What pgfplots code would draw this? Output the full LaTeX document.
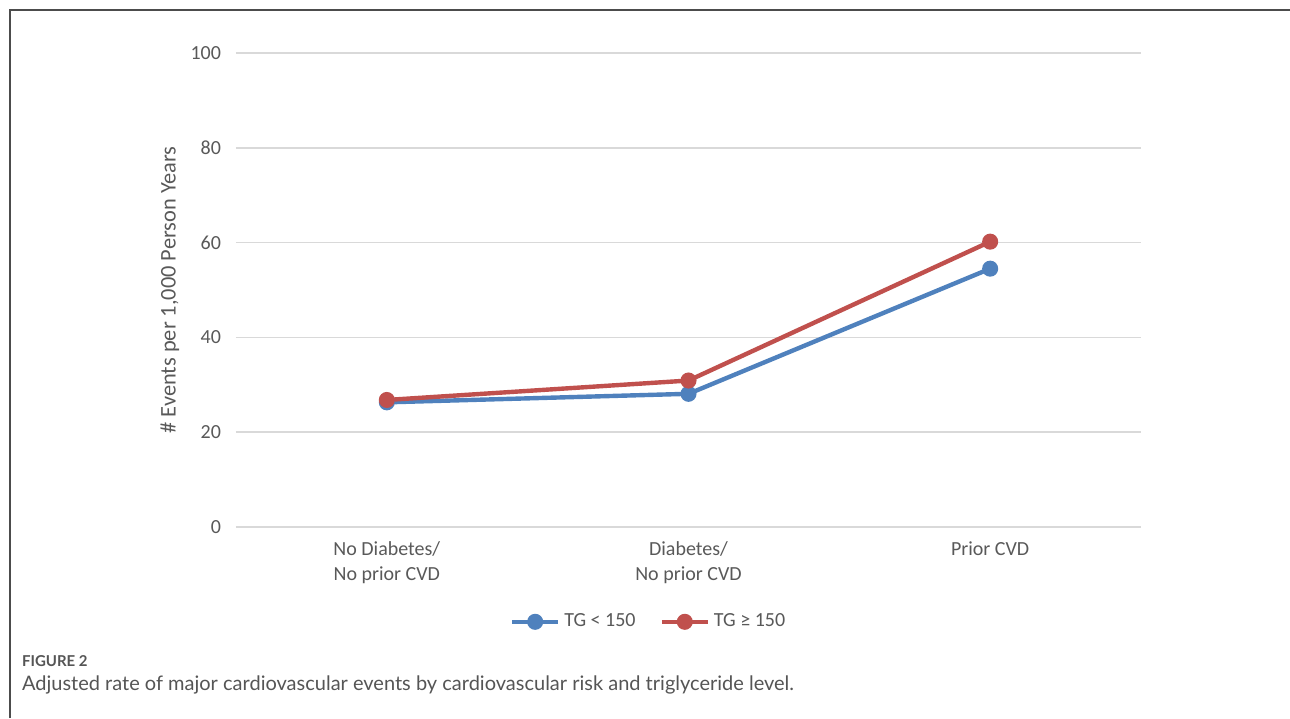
\documentclass[border=0pt]{standalone}
\usepackage{pgfplots}
\pgfplotsset{compat=1.18}
\usepackage{fontspec}
\setmainfont{Carlito}
\newfontfamily\capfont{Lato}
\definecolor{tgblue}{HTML}{4F81BD}
\definecolor{tgred}{HTML}{C0504D}
\definecolor{txtgray}{HTML}{595959}
\definecolor{gridgray}{HTML}{D9D9D9}
\definecolor{capgray}{HTML}{555555}
\begin{document}
\begin{tikzpicture}
\useasboundingbox (-118pt,-95.5pt) rectangle (527pt,263.5pt);
\draw[line width=0.7pt, color=black!70] (-113pt,-95.5pt) -- (-113pt,258.5pt) -- (527pt,258.5pt);
\begin{axis}[
  at={(0pt,0pt)}, anchor=south west,
  scale only axis, width=452.5pt, height=237pt,
  xmin=-0.5, xmax=2.5, ymin=0, ymax=100,
  ytick={0,20,40,60,80,100},
  xtick={0,1,2},
  xticklabels={{No Diabetes/\\No prior CVD},{Diabetes/\\No prior CVD},{Prior CVD}},
  xticklabel style={align=center, text=txtgray, font=\fontsize{10}{12.5}\selectfont, anchor=north, yshift=-4pt},
  yticklabel style={text=txtgray, font=\fontsize{10}{12}\selectfont, anchor=east, xshift=-4pt},
  /pgf/number format/assume math mode=true,
  axis line style={draw=none},
  major tick style={draw=none},
  ymajorgrids, grid style={gridgray, line width=0.8pt},
  ylabel={\# Events per 1,000 Person Years},
  ylabel style={at={(axis description cs:-0.073,0.5)}, anchor=center, text=txtgray, font=\fontsize{11.2}{13}\selectfont},
  legend style={draw=none, at={(axis description cs:0.457,-0.2)}, anchor=center, legend columns=2, font=\fontsize{10}{12}\selectfont, text=txtgray,
    /tikz/every even column/.append style={column sep=10pt}},
  legend image code/.code={\draw[mark repeat=2,mark phase=2] plot coordinates {(0pt,0pt)(11.5pt,0pt)(23pt,0pt)};},
  every axis plot/.append style={line width=2.2pt, mark=*, mark size=2.9pt},
]
\addplot[color=tgblue, mark options={fill=tgblue, draw=tgblue}] coordinates {(0,26.3) (1,28.1) (2,54.5)};
\addlegendentry{TG < 150}
\addplot[color=tgred, mark options={fill=tgred, draw=tgred}] coordinates {(0,26.8) (1,30.9) (2,60.2)};
\addlegendentry{TG ≥ 150}
\end{axis}
\node[anchor=west, text=capgray, font=\capfont\bfseries\fontsize{7.5}{9}\selectfont] at (-110.5pt,-67pt) {FIGURE 2};
\node[anchor=west, text=capgray, font=\capfont\fontsize{10}{12}\selectfont] at (-110.5pt,-79pt) {Adjusted rate of major cardiovascular events by cardiovascular risk and triglyceride level.};
\end{tikzpicture}
\end{document}
